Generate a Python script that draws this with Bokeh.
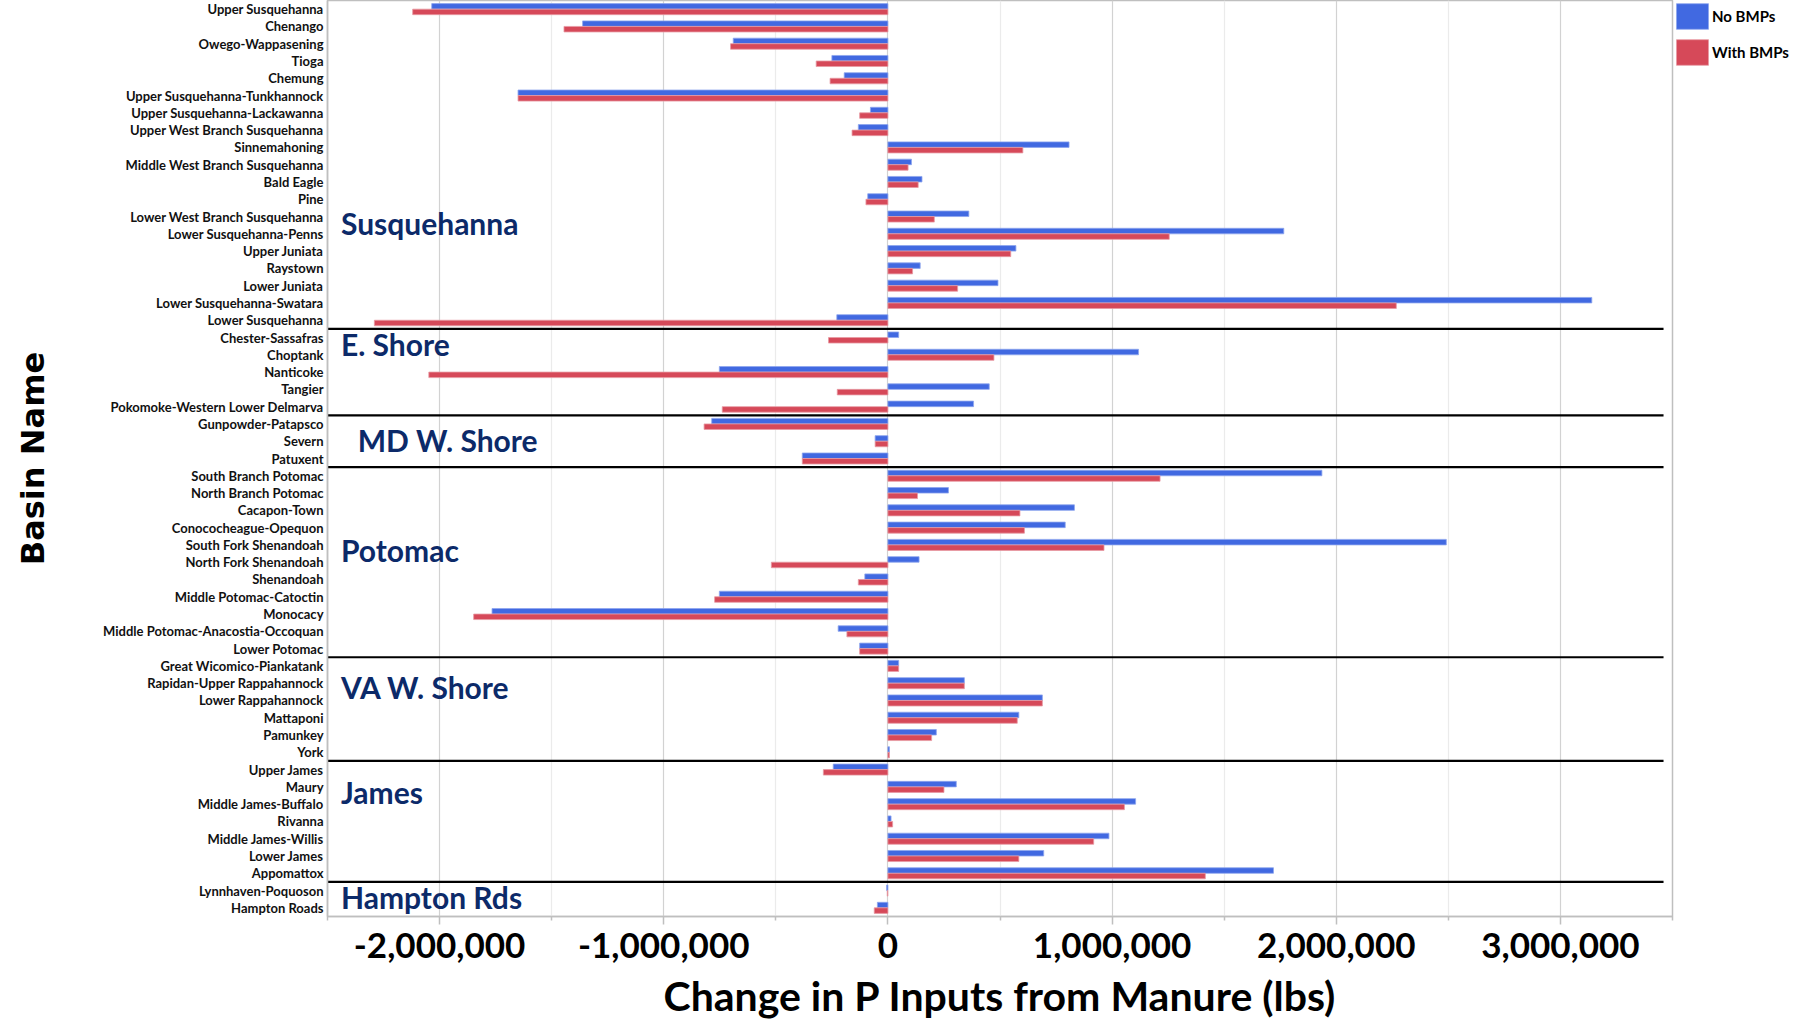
from bokeh.plotting import figure
from bokeh.models import (ColumnDataSource, FactorRange, Range1d, FixedTicker,
                          NumeralTickFormatter, Legend, LegendItem)
from bokeh.transform import dodge
from bokeh.core.properties import value
from bokeh.embed import file_html
from bokeh.resources import INLINE

# ---------------- data ----------------
susquehanna = ["Upper Susquehanna", "Chenango", "Owego-Wappasening", "Tioga", "Chemung",
               "Upper Susquehanna-Tunkhannock", "Upper Susquehanna-Lackawanna",
               "Upper West Branch Susquehanna", "Sinnemahoning", "Middle West Branch Susquehanna",
               "Bald Eagle", "Pine", "Lower West Branch Susquehanna", "Lower Susquehanna-Penns",
               "Upper Juniata", "Raystown", "Lower Juniata", "Lower Susquehanna-Swatara",
               "Lower Susquehanna"]
e_shore = ["Chester-Sassafras", "Choptank", "Nanticoke", "Tangier",
           "Pokomoke-Western Lower Delmarva"]
md_w_shore = ["Gunpowder-Patapsco", "Severn", "Patuxent"]
potomac = ["South Branch Potomac", "North Branch Potomac", "Cacapon-Town",
           "Conococheague-Opequon", "South Fork Shenandoah", "North Fork Shenandoah",
           "Shenandoah", "Middle Potomac-Catoctin", "Monocacy",
           "Middle Potomac-Anacostia-Occoquan", "Lower Potomac"]
va_w_shore = ["Great Wicomico-Piankatank", "Rapidan-Upper Rappahannock", "Lower Rappahannock",
              "Mattaponi", "Pamunkey", "York"]
james = ["Upper James", "Maury", "Middle James-Buffalo", "Rivanna", "Middle James-Willis",
         "Lower James", "Appomattox"]
hampton = ["Lynnhaven-Poquoson", "Hampton Roads"]

group_names = ["Susquehanna", "E. Shore", "MD W. Shore", "Potomac", "VA W. Shore", "James",
               "Hampton Rds"]
group_members = [susquehanna, e_shore, md_w_shore, potomac, va_w_shore, james, hampton]

basins = susquehanna + e_shore + md_w_shore + potomac + va_w_shore + james + hampton

no_bmps = [
    # Susquehanna
    -2035000, -1362000, -690000, -250000, -195000, -1650000, -78000, -132000, 808000,
    105000, 152000, -90000, 361000, 1766000, 571000, 144000, 491000, 3140000, -228000,
    # E. Shore
    48000, 1118000, -752000, 452000, 382000,
    # MD W. Shore
    -786000, -57000, -382000,
    # Potomac
    1936000, 270000, 832000, 791000, 2491000, 139000, -103000, -752000, -1766000,
    -222000, -126000,
    # VA W. Shore
    48000, 341000, 689000, 584000, 216000, 7000,
    # James
    -244000, 305000, 1105000, 14000, 986000, 695000, 1720000,
    # Hampton Rds
    -6000, -47000,
]
with_bmps = [
    # Susquehanna
    -2120000, -1445000, -702000, -320000, -258000, -1650000, -126000, -160000, 602000,
    90000, 135000, -98000, 207000, 1255000, 548000, 110000, 311000, 2268000, -2291000,
    # E. Shore
    -265000, 473000, -2048000, -226000, -739000,
    # MD W. Shore
    -820000, -57000, -382000,
    # Potomac
    1214000, 132000, 589000, 609000, 964000, -520000, -132000, -773000, -1848000,
    -183000, -126000,
    # VA W. Shore
    48000, 341000, 689000, 577000, 195000, 7000,
    # James
    -288000, 250000, 1055000, 21000, 918000, 584000, 1416000,
    # Hampton Rds
    -3000, -61000,
]

x_ticks = [-2000000, -1000000, 0, 1000000, 2000000, 3000000]
x_minor_ticks = [-2500000, -1500000, -500000, 500000, 1500000, 2500000, 3500000]
x_min, x_max = -2500000, 3500000

series_names = ["No BMPs", "With BMPs"]
BLUE = "#4169E1"
RED = "#D64959"
NAVY = "#0C2A69"

# group label anchors: (basin the label sits next to, offset in rows)
label_anchor = ["Lower West Branch Susquehanna", "Chester-Sassafras", "Severn",
                "South Fork Shenandoah", "Rapidan-Upper Rappahannock", "Maury",
                "Lynnhaven-Poquoson"]
label_offset = [-0.40, -0.38, 0.08, -0.28, -0.20, -0.28, -0.38]
label_x = [-2440000, -2440000, -2365000, -2440000, -2440000, -2440000, -2440000]

# ---------------- figure ----------------
p = figure(frame_width=1345, frame_height=916,
           y_range=FactorRange(factors=list(reversed(basins)), range_padding=0),
           x_range=Range1d(x_min, x_max),
           output_backend="svg", toolbar_location=None,
           min_border_left=327, min_border_right=0, min_border_top=0, min_border_bottom=0)
p.background_fill_color = "white"
p.border_fill_color = "white"
p.outline_line_color = "#BFBFBF"
p.outline_line_width = 1.5

src = ColumnDataSource(dict(basin=basins, no_bmps=no_bmps, with_bmps=with_bmps))
r_no = p.hbar(y=dodge("basin", 0.16, range=p.y_range), left=0, right="no_bmps", height=0.32,
              source=src, fill_color=BLUE, line_color="#8EA6EE", line_width=0.8)
r_with = p.hbar(y=dodge("basin", -0.16, range=p.y_range), left=0, right="with_bmps", height=0.32,
                source=src, fill_color=RED, line_color="#E79AA3", line_width=0.8)

# group separators (below last basin of each group except the last group)
sep_basins = [g[-1] for g in group_members[:-1]]
sep_src = ColumnDataSource(dict(b=sep_basins,
                                x0=[x_min] * len(sep_basins),
                                x1=[3460000] * len(sep_basins)))
p.segment(x0="x0", x1="x1",
          y0=dodge("b", -0.5, range=p.y_range), y1=dodge("b", -0.5, range=p.y_range),
          source=sep_src, line_color="black", line_width=2.2)

# group labels
for name, anchor, off, gx in zip(group_names, label_anchor, label_offset, label_x):
    gsrc = ColumnDataSource(dict(b=[anchor], x=[gx], t=[name]))
    p.text(x="x", y=dodge("b", off, range=p.y_range), text="t", source=gsrc,
           text_font=value("Lato"), text_font_style="bold", text_font_size="30px",
           text_color=NAVY, text_align="left", text_baseline="middle")

# grid
ticker = FixedTicker(ticks=x_ticks, minor_ticks=x_minor_ticks)
p.xaxis.ticker = ticker
p.xgrid.ticker = ticker
p.xgrid.grid_line_color = "#D2D2D2"
p.xgrid.grid_line_width = 1.2
p.xgrid.minor_grid_line_color = "#EBEBEB"
p.xgrid.minor_grid_line_width = 1.2
p.ygrid.grid_line_color = None

# x axis
p.xaxis.formatter = NumeralTickFormatter(format="0,0")
p.xaxis.axis_line_color = "#BFBFBF"
p.xaxis.axis_line_width = 1.5
p.xaxis.major_tick_line_color = "#BFBFBF"
p.xaxis.minor_tick_line_color = "#BFBFBF"
p.xaxis.major_tick_line_width = 1.5
p.xaxis.minor_tick_line_width = 1.5
p.xaxis.major_tick_out = 8
p.xaxis.major_tick_in = 0
p.xaxis.minor_tick_out = 4
p.xaxis.minor_tick_in = 0
p.xaxis.major_label_text_font = "Lato"
p.xaxis.major_label_text_font_style = "bold"
p.xaxis.major_label_text_font_size = "35px"
p.xaxis.major_label_text_color = "black"
p.xaxis.major_label_standoff = 8
p.xaxis.axis_label = "Change in P Inputs from Manure (lbs)"
p.xaxis.axis_label_text_font = "Lato"
p.xaxis.axis_label_text_font_style = "bold"
p.xaxis.axis_label_text_font_size = "41px"
p.xaxis.axis_label_text_color = "black"
p.xaxis.axis_label_standoff = 10

# y axis
p.yaxis.axis_line_color = "#BFBFBF"
p.yaxis.axis_line_width = 1.5
p.yaxis.major_tick_line_color = None
p.yaxis.minor_tick_line_color = None
p.yaxis.major_tick_out = 0
p.yaxis.major_label_text_font = "Lato"
p.yaxis.major_label_text_font_style = "bold"
p.yaxis.major_label_text_font_size = "13px"
p.yaxis.major_label_text_color = "#111111"
p.yaxis.major_label_standoff = 4
p.yaxis.axis_label = "Basin Name"
p.yaxis.axis_label_text_font = "DejaVu Sans"
p.yaxis.axis_label_text_font_style = "bold"
p.yaxis.axis_label_text_font_size = "32px"
p.yaxis.axis_label_text_color = "black"
p.yaxis.axis_label_standoff = 48

# legend
legend = Legend(items=[LegendItem(label=series_names[0], renderers=[r_no]),
                       LegendItem(label=series_names[1], renderers=[r_with])],
                location="top_left", margin=0, padding=4, spacing=4,
                glyph_width=40, glyph_height=32, label_standoff=0,
                label_text_font="Lato", label_text_font_style="bold",
                label_text_font_size="15px", label_text_color="black",
                border_line_color=None, background_fill_alpha=0)
p.add_layout(legend, "right")

open("out.html", "w").write(file_html(p, INLINE))
